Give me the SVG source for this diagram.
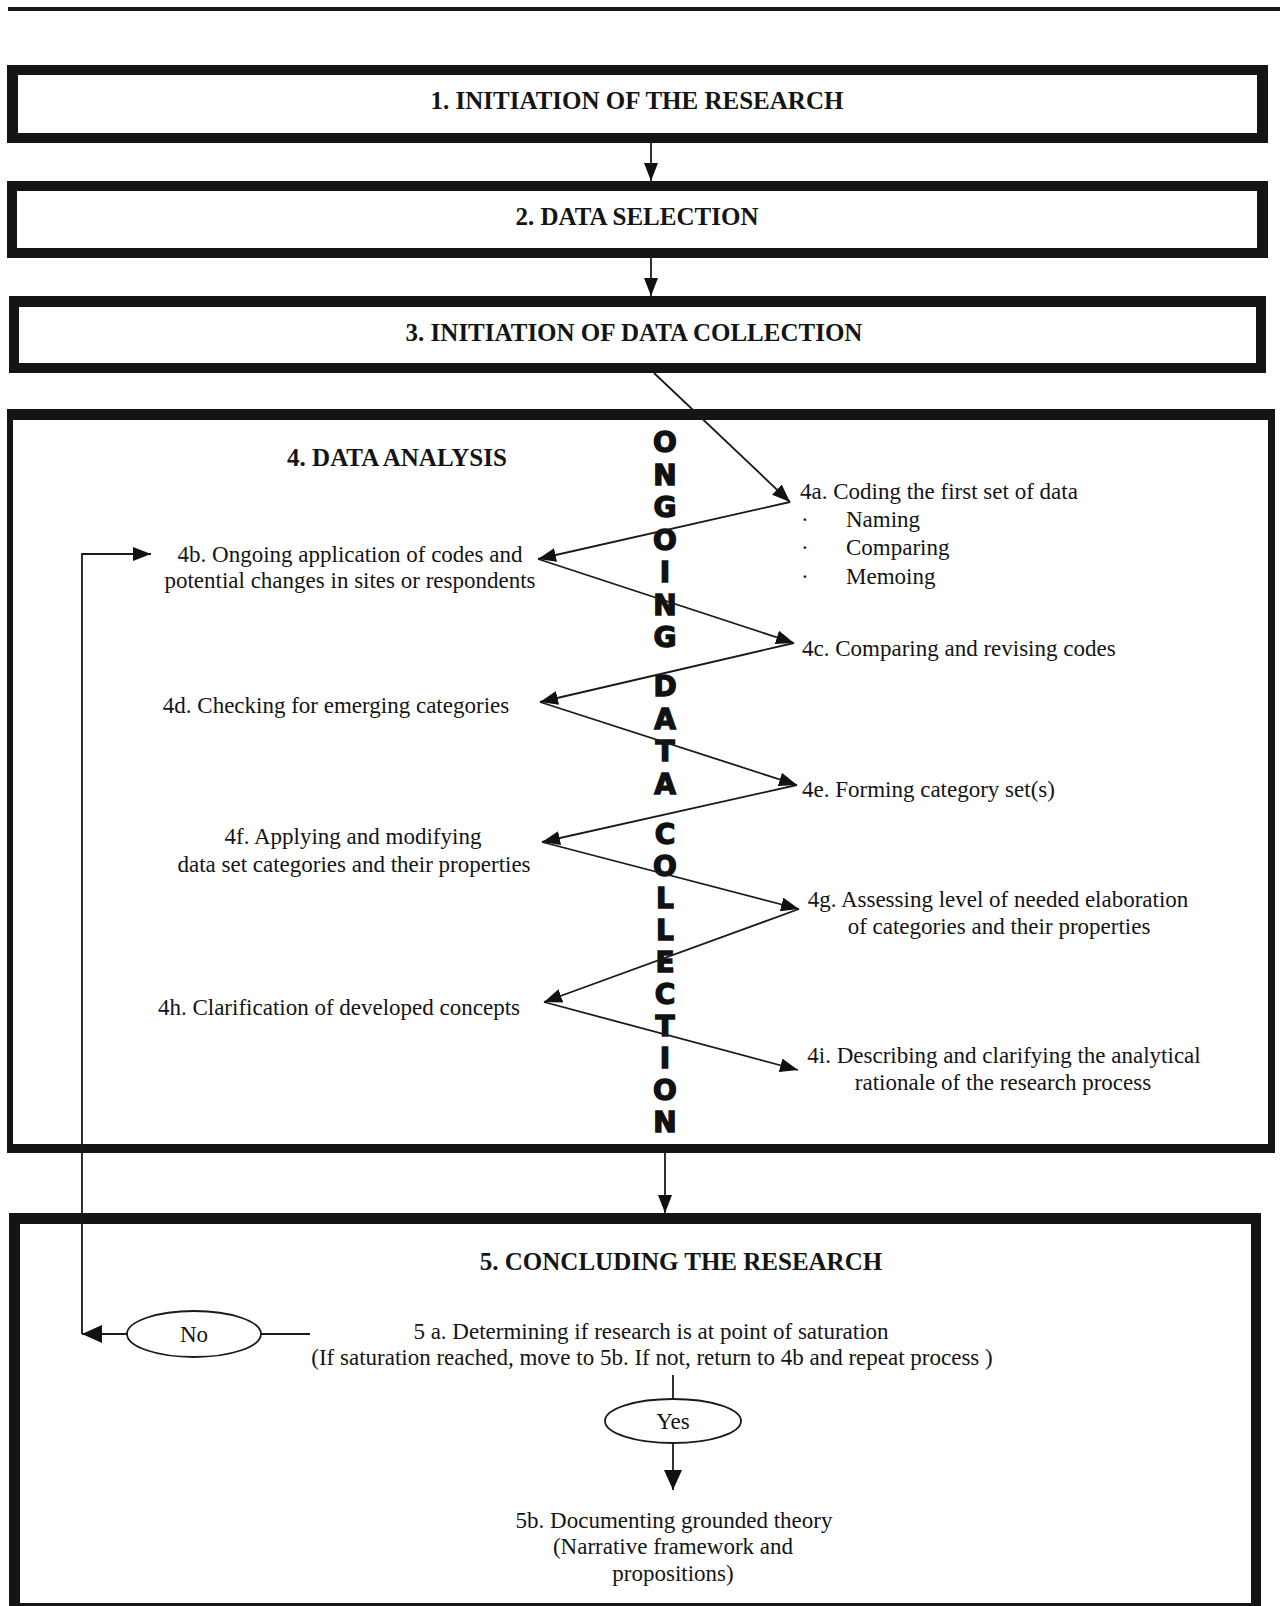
<svg xmlns="http://www.w3.org/2000/svg" width="1280" height="1606" viewBox="0 0 1280 1606">
  <style>
    .frame { fill: #141414; fill-rule: evenodd; }
    .head { font-family: "Liberation Serif", "Times New Roman", serif; font-weight: bold; font-size: 25px; fill: #141414; text-anchor: middle; }
    .txt { font-family: "Liberation Serif", "Times New Roman", serif; font-size: 23px; fill: #141414; }
    .mid { text-anchor: middle; }
    .vert { font-family: "DejaVu Sans", "Liberation Sans", sans-serif; font-weight: bold; font-size: 28px; fill: #111; stroke: #111; stroke-width: 1.4; text-anchor: middle; }
    .wire { fill: none; stroke: #1a1a1a; stroke-width: 1.8; }
    .oval { fill: #fff; stroke: #1a1a1a; stroke-width: 1.8; }
  </style>
  <defs>
    <marker id="tip" markerUnits="userSpaceOnUse" markerWidth="18" markerHeight="14" refX="18" refY="7" orient="auto">
      <path d="M0,0 L18,7 L0,14 Z" fill="#111"/>
    </marker>
    <marker id="tip-lg" markerUnits="userSpaceOnUse" markerWidth="20" markerHeight="18" refX="20" refY="9" orient="auto">
      <path d="M0,0 L20,9 L0,18 Z" fill="#111"/>
    </marker>
  </defs>

  <!-- page rule -->
  <rect x="8" y="7" width="1272" height="4" fill="#1a1a1a"/>

  <!-- step 1 -->
  <g id="step1">
    <path class="frame" d="M7,65 H1268 V143 H7 Z M18,75 V133 H1257 V75 Z"/>
    <text class="head" x="637" y="109">1. INITIATION OF THE RESEARCH</text>
  </g>

  <!-- step 2 -->
  <g id="step2">
    <path class="frame" d="M7,181 H1268 V258 H7 Z M17,191 V248 H1257 V191 Z"/>
    <text class="head" x="637" y="225">2. DATA SELECTION</text>
  </g>

  <!-- step 3 -->
  <g id="step3">
    <path class="frame" d="M9,296 H1266 V373 H9 Z M19,307 V363 H1256 V307 Z"/>
    <text class="head" x="634" y="341">3. INITIATION OF DATA COLLECTION</text>
  </g>

  <!-- step 4 container -->
  <g id="step4">
    <path class="frame" d="M7,409 H1275 V1153 H7 Z M13,420 V1144 H1268 V420 Z"/>
    <text class="head" x="397" y="466">4. DATA ANALYSIS</text>
  </g>

  <!-- vertical banner -->
  <g id="banner">
    <text class="vert" x="665" y="452">O</text>
    <text class="vert" x="665" y="485">N</text>
    <text class="vert" x="665" y="517">G</text>
    <text class="vert" x="665" y="550">O</text>
    <text class="vert" x="665" y="582">I</text>
    <text class="vert" x="665" y="615">N</text>
    <text class="vert" x="665" y="647">G</text>
    <text class="vert" x="665" y="696">D</text>
    <text class="vert" x="665" y="729">A</text>
    <text class="vert" x="665" y="761">T</text>
    <text class="vert" x="665" y="794">A</text>
    <text class="vert" x="665" y="844">C</text>
    <text class="vert" x="665" y="876">O</text>
    <text class="vert" x="665" y="908">L</text>
    <text class="vert" x="665" y="940">L</text>
    <text class="vert" x="665" y="972">E</text>
    <text class="vert" x="665" y="1004">C</text>
    <text class="vert" x="665" y="1036">T</text>
    <text class="vert" x="665" y="1068">I</text>
    <text class="vert" x="665" y="1100">O</text>
    <text class="vert" x="665" y="1132">N</text>
  </g>

  <g id="n4a">
    <text class="txt" x="800" y="499">4a. Coding the first set of data</text>
    <text class="txt" x="801" y="527">·</text>
    <text class="txt" x="846" y="527">Naming</text>
    <text class="txt" x="801" y="555">·</text>
    <text class="txt" x="846" y="555">Comparing</text>
    <text class="txt" x="801" y="584">·</text>
    <text class="txt" x="846" y="584">Memoing</text>
  </g>
  <g id="n4b">
    <text class="txt mid" x="350" y="562">4b. Ongoing application of codes and</text>
    <text class="txt mid" x="350" y="588">potential changes in sites or respondents</text>
  </g>
  <g id="n4c">
    <text class="txt" x="802" y="656">4c. Comparing and revising codes</text>
  </g>
  <g id="n4d">
    <text class="txt mid" x="336" y="713">4d. Checking for emerging categories</text>
  </g>
  <g id="n4e">
    <text class="txt" x="802" y="797">4e. Forming category set(s)</text>
  </g>
  <g id="n4f">
    <text class="txt mid" x="353" y="844">4f. Applying and modifying</text>
    <text class="txt mid" x="354" y="872">data set categories and their properties</text>
  </g>
  <g id="n4g">
    <text class="txt mid" x="998" y="907">4g. Assessing level of needed elaboration</text>
    <text class="txt mid" x="999" y="934">of categories and their properties</text>
  </g>
  <g id="n4h">
    <text class="txt mid" x="339" y="1015">4h. Clarification of developed concepts</text>
  </g>
  <g id="n4i">
    <text class="txt mid" x="1004" y="1063">4i. Describing and clarifying the analytical</text>
    <text class="txt mid" x="1003" y="1090">rationale of the research process</text>
  </g>

  <!-- step 5 container -->
  <g id="step5">
    <path class="frame" d="M9,1213 H1261 V1610 H9 Z M20,1224 V1603 H1251 V1224 Z"/>
    <text class="head" x="681" y="1270">5. CONCLUDING THE RESEARCH</text>
  </g>
  <g id="n5a">
    <text class="txt mid" x="651" y="1339">5 a. Determining if research is at point of saturation</text>
    <text class="txt mid" x="652" y="1365">(If saturation reached, move to 5b. If not, return to 4b and repeat process  )</text>
  </g>
  <g id="no">
    <ellipse class="oval" cx="194" cy="1334" rx="67" ry="23"/>
    <text class="txt mid" x="194" y="1342">No</text>
  </g>
  <g id="yes">
    <ellipse class="oval" cx="673" cy="1421" rx="68" ry="22"/>
    <text class="txt mid" x="673" y="1429">Yes</text>
  </g>
  <g id="n5b">
    <text class="txt mid" x="674" y="1528">5b. Documenting grounded theory</text>
    <text class="txt mid" x="673" y="1554">(Narrative framework and</text>
    <text class="txt mid" x="673" y="1581">propositions)</text>
  </g>

  <!-- connectors -->
  <g id="connectors">
    <line class="wire" x1="651" y1="143" x2="651" y2="181" marker-end="url(#tip)"/>
    <line class="wire" x1="651" y1="258" x2="651" y2="296" marker-end="url(#tip)"/>
    <line class="wire" x1="654" y1="373" x2="790" y2="502" marker-end="url(#tip)"/>
    <line class="wire" x1="790" y1="502" x2="538" y2="559" marker-end="url(#tip)"/>
    <line class="wire" x1="538" y1="559" x2="794" y2="643" marker-end="url(#tip)"/>
    <line class="wire" x1="794" y1="643" x2="540" y2="702" marker-end="url(#tip)"/>
    <line class="wire" x1="540" y1="702" x2="797" y2="785" marker-end="url(#tip)"/>
    <line class="wire" x1="797" y1="785" x2="542" y2="842" marker-end="url(#tip)"/>
    <line class="wire" x1="542" y1="842" x2="799" y2="909" marker-end="url(#tip)"/>
    <line class="wire" x1="799" y1="909" x2="544" y2="1002" marker-end="url(#tip)"/>
    <line class="wire" x1="544" y1="1002" x2="798" y2="1070" marker-end="url(#tip)"/>
    <line class="wire" x1="665" y1="1153" x2="665" y2="1213" marker-end="url(#tip)"/>
    <!-- saturation check branches -->
    <line class="wire" x1="310" y1="1334" x2="261" y2="1334"/>
    <line class="wire" x1="127" y1="1334" x2="82" y2="1334" marker-end="url(#tip-lg)"/>
    <polyline class="wire" points="82,1334 82,554 151,554" marker-end="url(#tip)"/>
    <line class="wire" x1="673" y1="1375" x2="673" y2="1399"/>
    <line class="wire" x1="673" y1="1443" x2="673" y2="1490" marker-end="url(#tip-lg)"/>
  </g>
</svg>
